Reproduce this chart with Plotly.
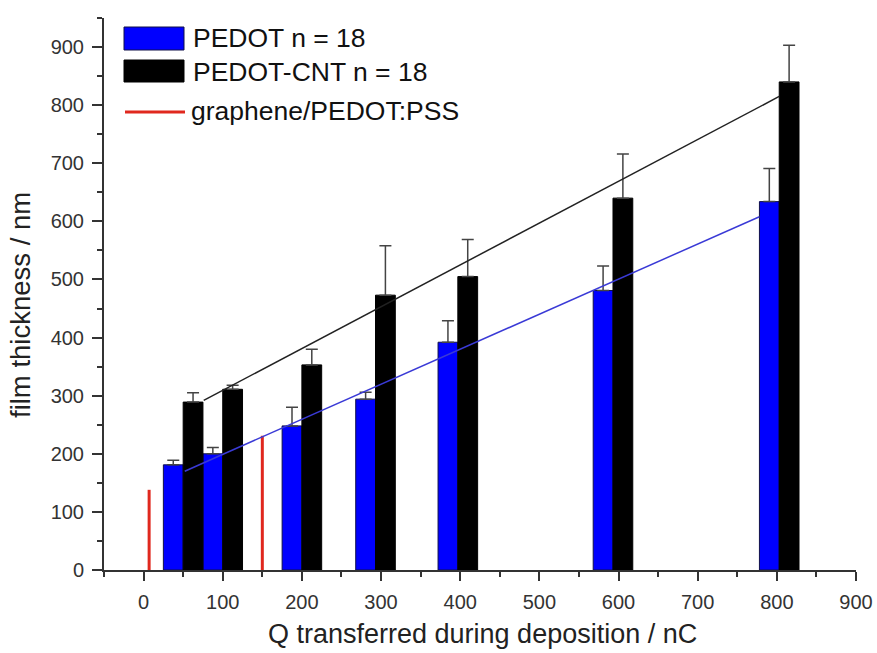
import plotly.graph_objects as go

# Charge passed during deposition (nC) for each group of bars
charge = [50, 100, 200, 293, 397, 593, 803]

# Mean film thickness (nm) and upper error (nm)
pedot = [181, 200, 248, 294, 392, 481, 634]
pedot_err = [8, 11, 32, 12, 37, 42, 57]
pedot_cnt = [289, 311, 353, 473, 505, 640, 840]
pedot_cnt_err = [16, 7, 27, 85, 64, 76, 63]

# Reference graphene/PEDOT:PSS films
graphene_q = [7, 150]
graphene_t = [138, 231]

# Linear fit end points
pedot_fit_q = [52, 778]
pedot_fit_t = [170, 608]
cnt_fit_q = [76, 803]
cnt_fit_t = [292, 815]

x_ticks = list(range(0, 901, 100))
y_ticks = list(range(0, 901, 100))

BAR_W = 25
FONT = "Liberation Sans, Arial, sans-serif"
BLUE = "#0000ff"
RED = "#e0281e"
AXIS = "#333333"

fig = go.Figure()

fig.add_trace(go.Bar(
    x=charge, y=pedot, width=BAR_W, offset=-BAR_W,
    marker=dict(color=BLUE, line=dict(color="#10104a", width=1)),
    error_y=dict(type="data", array=pedot_err, arrayminus=[0] * len(pedot_err),
                 symmetric=False, color="#444444", thickness=1.5, width=6),
    name="PEDOT n = 18", showlegend=False,
))
fig.add_trace(go.Bar(
    x=charge, y=pedot_cnt, width=BAR_W, offset=0,
    marker=dict(color="#000000", line=dict(color="#000000", width=1)),
    error_y=dict(type="data", array=pedot_cnt_err, arrayminus=[0] * len(pedot_cnt_err),
                 symmetric=False, color="#444444", thickness=1.5, width=6),
    name="PEDOT-CNT n = 18", showlegend=False,
))

# vertical red sticks for the graphene/PEDOT:PSS films
gx, gy = [], []
for q, t in zip(graphene_q, graphene_t):
    gx += [q, q, None]
    gy += [0, t, None]
fig.add_trace(go.Scatter(
    x=gx, y=gy, mode="lines", line=dict(color=RED, width=3),
    name="graphene/PEDOT:PSS", showlegend=False,
))

fig.add_trace(go.Scatter(
    x=pedot_fit_q, y=pedot_fit_t, mode="lines",
    line=dict(color="#3a3ad6", width=1.5), showlegend=False, hoverinfo="skip",
))
fig.add_trace(go.Scatter(
    x=cnt_fit_q, y=cnt_fit_t, mode="lines",
    line=dict(color="#222222", width=1.5), showlegend=False, hoverinfo="skip",
))

# plot-area geometry in pixels
W, H = 877, 653
PL, PR, PT, PB = 104, 856, 18, 570


def px(xp):
    return (xp - PL) / (PR - PL)


def py(yp):
    return (PB - yp) / (PB - PT)


shapes = [
    dict(type="rect", xref="paper", yref="paper",
         x0=px(124), x1=px(184), y0=py(50), y1=py(27),
         fillcolor=BLUE, line=dict(color="#10104a", width=1)),
    dict(type="rect", xref="paper", yref="paper",
         x0=px(124), x1=px(184), y0=py(82), y1=py(60),
         fillcolor="#000000", line=dict(color="#000000", width=1)),
    dict(type="line", xref="paper", yref="paper",
         x0=px(125), x1=px(185), y0=py(112), y1=py(112),
         line=dict(color=RED, width=3)),
]

legend_font = dict(family=FONT, size=26.5, color="#111111")
annotations = [
    dict(text="PEDOT n = 18", x=px(191), y=py(38), xref="paper", yref="paper",
         xanchor="left", yanchor="middle", showarrow=False, font=legend_font),
    dict(text="PEDOT-CNT n = 18", x=px(191), y=py(72), xref="paper", yref="paper",
         xanchor="left", yanchor="middle", showarrow=False, font=legend_font),
    dict(text="graphene/PEDOT:PSS", x=px(189), y=py(111), xref="paper", yref="paper",
         xanchor="left", yanchor="middle", showarrow=False, font=legend_font),
    dict(text="Q transferred during deposition / nC", x=px(482), y=py(634),
         xref="paper", yref="paper", xanchor="center", yanchor="middle",
         showarrow=False, font=dict(family=FONT, size=27, color="#222222")),
    dict(text="film thickness / nm", x=px(20), y=py(305), textangle=-90,
         xref="paper", yref="paper", xanchor="center", yanchor="middle",
         showarrow=False, font=dict(family=FONT, size=27.5, color="#222222")),
]

tick_font = dict(family=FONT, size=20, color="#333333")

fig.update_layout(
    width=W, height=H,
    margin=dict(l=PL, r=W - PR, t=PT, b=H - PB, pad=0, autoexpand=False),
    paper_bgcolor="white", plot_bgcolor="white",
    barmode="overlay",
    shapes=shapes, annotations=annotations,
    xaxis=dict(
        range=[-50, 900], tickmode="array", tickvals=x_ticks,
        automargin=False,
        ticks="outside", ticklen=9, tickwidth=2, tickcolor=AXIS,
        showline=True, linecolor=AXIS, linewidth=2,
        showgrid=False, zeroline=False, tickfont=tick_font,
        ticklabelstandoff=4,
        minor=dict(tick0=0, dtick=50, ticks="outside", ticklen=5,
                   tickwidth=2, tickcolor=AXIS, showgrid=False),
    ),
    yaxis=dict(
        range=[0, 950], tickmode="array", tickvals=y_ticks,
        automargin=False,
        ticks="outside", ticklen=10, tickwidth=2, tickcolor=AXIS,
        showline=True, linecolor=AXIS, linewidth=2,
        showgrid=False, zeroline=False, tickfont=tick_font,
        ticklabelstandoff=4,
        minor=dict(tick0=0, dtick=50, ticks="outside", ticklen=5,
                   tickwidth=2, tickcolor=AXIS, showgrid=False),
    ),
)

fig.write_html("out.html")
